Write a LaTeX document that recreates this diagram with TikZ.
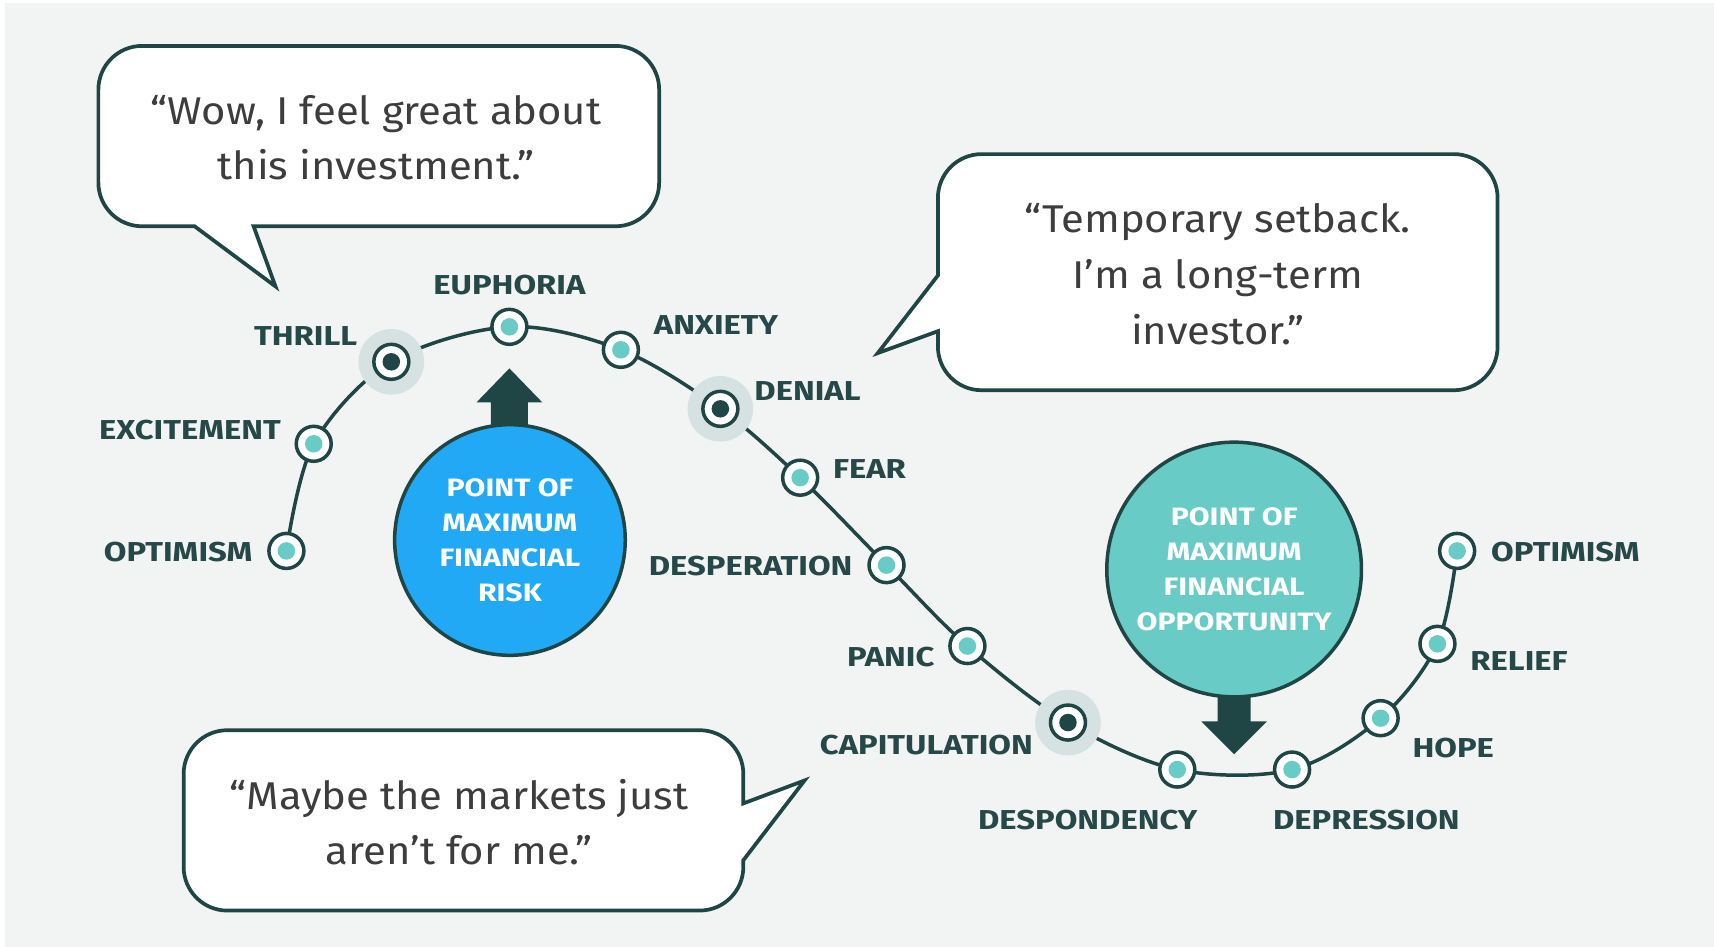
\documentclass[tikz,border=0pt]{standalone}
\usepackage{fontspec}
\setmainfont{Fira Sans}
\newfontfamily\labfont[FakeStretch=1.2]{Fira Sans}
\newfontfamily\quotefont[FakeStretch=1.08]{Fira Sans}
\definecolor{bgc}{HTML}{F2F4F3}
\definecolor{dark}{HTML}{1F4545}
\definecolor{labc}{HTML}{264848}
\definecolor{qc}{HTML}{3D3D3D}
\definecolor{riskblue}{HTML}{22A9F5}
\definecolor{tealc}{HTML}{69CBC5}
\definecolor{haloc}{HTML}{D6E2E1}
\begin{document}
\begin{tikzpicture}[x=1pt,y=-1pt,
  bubble/.style={draw=dark, fill=white, line width=3.4pt, line join=miter},
  quote/.style={font=\quotefont\fontsize{35.4}{51}\selectfont, text=qc, align=center, inner sep=0pt},
  lab/.style={font=\labfont\bfseries\fontsize{25}{25}\selectfont, text=labc, inner sep=0pt},
  dotnode/.style={circle, draw=dark, line width=3.2pt, fill=white, minimum size=32pt, inner sep=0pt},
  tdot/.style={dotnode, path picture={\fill[tealc] (path picture bounding box.center) circle (8pt);}},
  ddot/.style={dotnode, path picture={\fill[dark] (path picture bounding box.center) circle (8pt);}},
  bigc/.style={circle, draw=dark, line width=3.2pt, text=white, align=center, inner sep=0pt,
    font=\labfont\bfseries\fontsize{23}{32}\selectfont},
  curve/.style={draw=dark, line width=3.2pt}
]
\useasboundingbox (0,0) rectangle (1568,866);
\fill[bgc] (4.6,2.7) rectangle (1568,866);

% bubble 1
\draw[bubble] (232,207) -- (252,262) -- (178,207) -- (130,207)
  arc[start angle=90,end angle=180,radius=40] -- (90,82)
  arc[start angle=180,end angle=270,radius=40] -- (563,42)
  arc[start angle=270,end angle=360,radius=40] -- (603,167)
  arc[start angle=0,end angle=90,radius=40] -- cycle;
\node[quote] (q1) at (344,126) {“Wow, I feel great about\\this investment.”};

% bubble 2
\draw[bubble] (858,252) -- (803,323) -- (858,303) -- (858,317)
  arc[start angle=180,end angle=90,radius=40] -- (1330,357)
  arc[start angle=90,end angle=0,radius=40] -- (1370,181)
  arc[start angle=0,end angle=-90,radius=40] -- (898,141)
  arc[start angle=270,end angle=180,radius=40] -- cycle;
\node[quote] (q2) at (1114,251) {“Temporary setback.\\I’m a long-term\\investor.”};

% bubble 3
\draw[bubble] (680,735) -- (736,714) -- (680,787) -- (680,793)
  arc[start angle=0,end angle=90,radius=40] -- (208,833)
  arc[start angle=90,end angle=180,radius=40] -- (168,708)
  arc[start angle=180,end angle=270,radius=40] -- (640,668)
  arc[start angle=270,end angle=360,radius=40] -- cycle;
\node[quote] (q3) at (420,752) {“Maybe the markets just\\aren’t for me.”};

% curve points
\coordinate (p1) at (262,504);
\coordinate (p2) at (287,406);
\coordinate (p3) at (358,331);
\coordinate (p4) at (466,299);
\coordinate (p5) at (568,320);
\coordinate (p6) at (659,374);
\coordinate (p7) at (732,437);
\coordinate (p8) at (811,517);
\coordinate (p9) at (885,591);
\coordinate (p10) at (977,661);
\coordinate (p11) at (1077,704);
\coordinate (p12) at (1182,704);
\coordinate (p13) at (1263,657);
\coordinate (p14) at (1315,589);
\coordinate (p15) at (1333,504);

\draw[curve] plot[smooth, tension=0.55] coordinates {(p1) (p2) (p3) (p4) (p5) (p6) (p7) (p8) (p9) (p10) (p11) (p12) (p13) (p14) (p15)};

\fill[haloc] (p3) circle (30pt);
\fill[haloc] (p6) circle (30pt);
\fill[haloc] (p10) circle (30pt);

\node[tdot] (n1) at (p1) {};
\node[tdot] (n2) at (p2) {};
\node[ddot] (n3) at (p3) {};
\node[tdot] (n4) at (p4) {};
\node[tdot] (n5) at (p5) {};
\node[ddot] (n6) at (p6) {};
\node[tdot] (n7) at (p7) {};
\node[tdot] (n8) at (p8) {};
\node[tdot] (n9) at (p9) {};
\node[ddot] (n10) at (p10) {};
\node[tdot] (n11) at (p11) {};
\node[tdot] (n12) at (p12) {};
\node[tdot] (n13) at (p13) {};
\node[tdot] (n14) at (p14) {};
\node[tdot] (n15) at (p15) {};

% labels
\node[lab, anchor=east] (l1) at (231,505) {OPTIMISM};
\node[lab, anchor=east] (l2) at (257,393) {EXCITEMENT};
\node[lab, anchor=east] (l3) at (327,307) {THRILL};
\node[lab] (l4) at (466,261) {EUPHORIA};
\node[lab, anchor=west] (l5) at (598,297) {ANXIETY};
\node[lab, anchor=west] (l6) at (690,358) {DENIAL};
\node[lab, anchor=west] (l7) at (762,429) {FEAR};
\node[lab, anchor=east] (l8) at (780,518) {DESPERATION};
\node[lab, anchor=east] (l9) at (855,601) {PANIC};
\node[lab, anchor=east] (l10) at (945,682) {CAPITULATION};
\node[lab] (l11) at (995,750) {DESPONDENCY};
\node[lab] (l12) at (1250,750) {DEPRESSION};
\node[lab, anchor=west] (l13) at (1292,684) {HOPE};
\node[lab, anchor=west] (l14) at (1345,605) {RELIEF};
\node[lab, anchor=west] (l15) at (1364,505) {OPTIMISM};

% arrows
\coordinate (riskTip) at (466,337);
\fill[dark] (riskTip) -- ++(30,31) -- ++(-13,0) -- ++(0,40) -- ++(-34,0) -- ++(0,-40) -- ++(-13,0) -- cycle;
\coordinate (oppTip) at (1129,690);
\fill[dark] (oppTip) -- ++(30,-30) -- ++(-15,0) -- ++(0,-40) -- ++(-30,0) -- ++(0,40) -- ++(-15,0) -- cycle;

% big circles
\node[bigc, fill=riskblue, minimum size=211pt] (risk) at (466.5,494) {POINT OF\\MAXIMUM\\FINANCIAL\\RISK};
\node[bigc, fill=tealc, minimum size=233pt] (opp) at (1129,521) {POINT OF\\MAXIMUM\\FINANCIAL\\OPPORTUNITY};
\end{tikzpicture}
\end{document}
